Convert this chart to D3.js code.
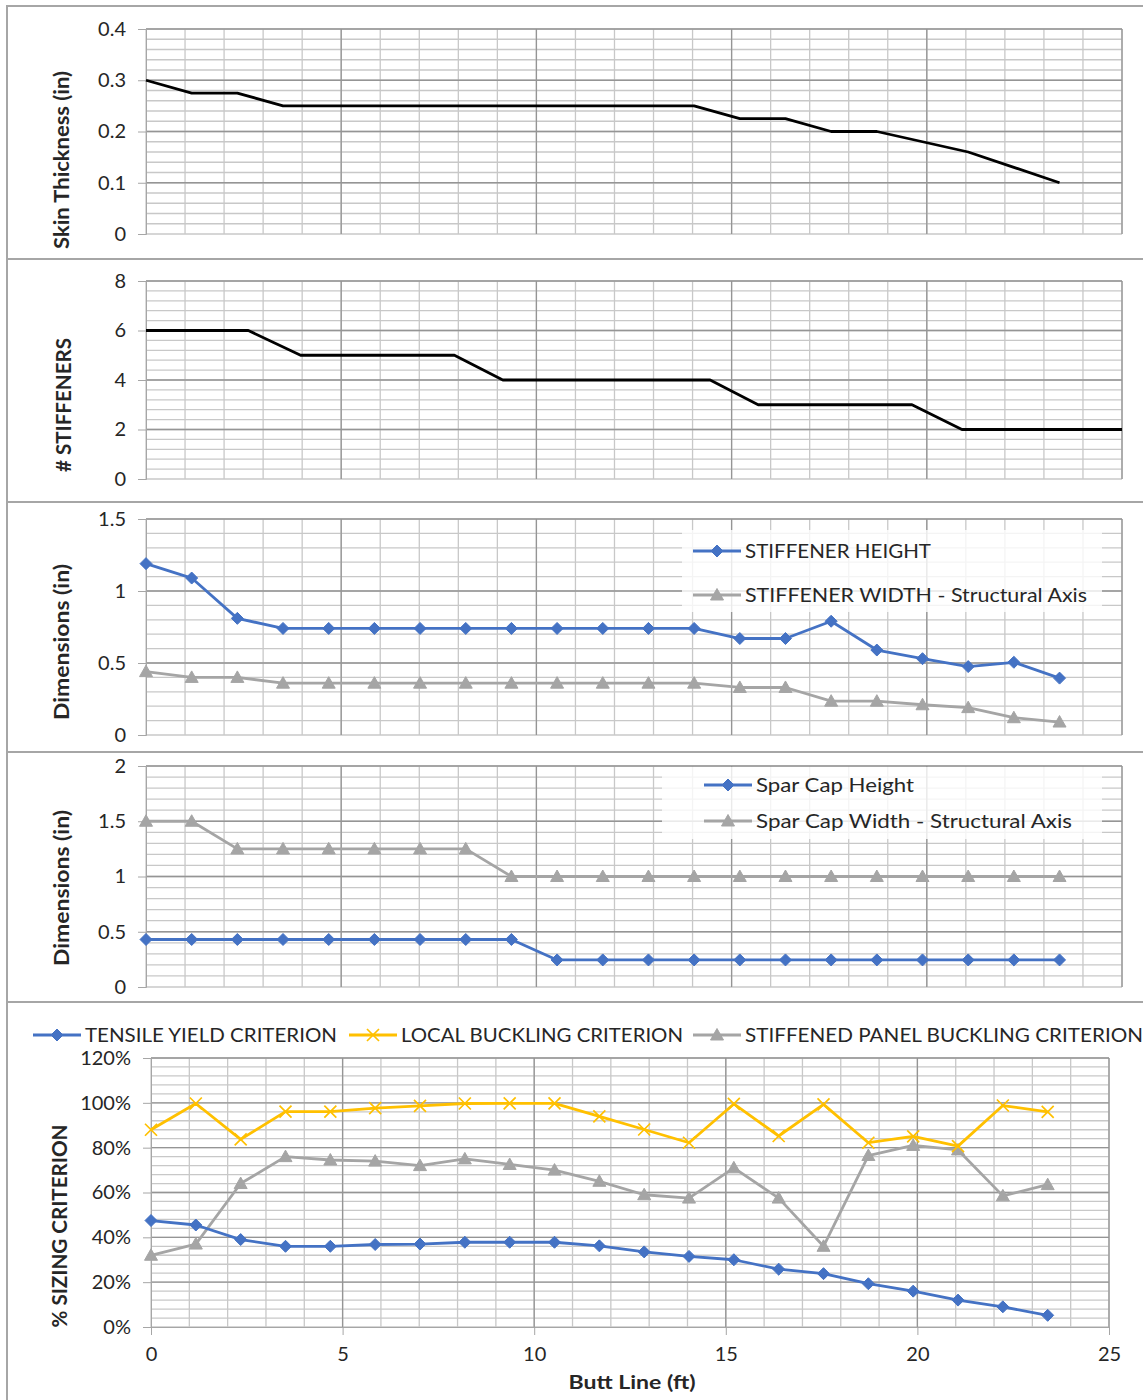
<!DOCTYPE html>
<html>
<head>
<meta charset="utf-8">
<script src="https://cdn.jsdelivr.net/npm/d3@7"></script>
<style>
  body { margin: 0; background: #fff; }
  text { font-family: Lato, "Noto Sans", sans-serif; fill: #262626; }
</style>
</head>
<body>
<script>
// butt line stations (ft), shared by most series
var stations = [0, 1.17, 2.34, 3.51, 4.68, 5.85, 7.02, 8.19, 9.36, 10.53, 11.7,
                12.87, 14.04, 15.21, 16.38, 17.55, 18.72, 19.89, 21.06, 22.23, 23.4];

var skinThickness = [0.30, 0.275, 0.275, 0.25, 0.25, 0.25, 0.25, 0.25, 0.25, 0.25, 0.25,
                     0.25, 0.25, 0.225, 0.225, 0.20, 0.20, 0.18, 0.16, 0.13, 0.10];

var stiffenerX     = [0, 2.62, 3.96, 7.9, 9.14, 14.45, 15.68, 19.62, 20.9, 25];
var stiffenerCount = [6, 6, 5, 5, 4, 4, 3, 3, 2, 2];

var stiffHeight = [1.19, 1.09, 0.81, 0.74, 0.74, 0.74, 0.74, 0.74, 0.74, 0.74, 0.74,
                   0.74, 0.74, 0.67, 0.67, 0.79, 0.59, 0.53, 0.475, 0.505, 0.395];
var stiffWidth  = [0.44, 0.40, 0.40, 0.36, 0.36, 0.36, 0.36, 0.36, 0.36, 0.36, 0.36,
                   0.36, 0.36, 0.33, 0.33, 0.235, 0.235, 0.21, 0.19, 0.12, 0.09];

var sparHeight = [0.43, 0.43, 0.43, 0.43, 0.43, 0.43, 0.43, 0.43, 0.43, 0.245, 0.245,
                  0.245, 0.245, 0.245, 0.245, 0.245, 0.245, 0.245, 0.245, 0.245, 0.245];
var sparWidth  = [1.5, 1.5, 1.25, 1.25, 1.25, 1.25, 1.25, 1.25, 1.0, 1.0, 1.0,
                  1.0, 1.0, 1.0, 1.0, 1.0, 1.0, 1.0, 1.0, 1.0, 1.0];

var tensileYield  = [47.5, 45.5, 39, 36, 36, 36.8, 37, 37.8, 37.8, 37.8, 36.2,
                     33.5, 31.5, 30, 25.8, 23.8, 19.3, 16, 12, 9, 5.2];
var localBuckling = [88, 99.7, 83.7, 96.1, 96.1, 97.6, 98.6, 99.7, 99.8, 99.8, 94,
                     88.1, 82.2, 99.5, 85.2, 99.3, 82.2, 85, 80.7, 98.8, 96];
var panelBuckling = [32, 37, 64, 76, 74.5, 74, 72, 75, 72.5, 70, 65,
                     59, 57.5, 71, 57.5, 36, 76.5, 81, 79, 58.5, 63.5];

var xTicks = [0, 5, 10, 15, 20, 25];

var BLUE = "#4472c4", GRAY = "#a5a5a5", GOLD = "#ffc000";

var svg = d3.select("body").append("svg")
    .attr("width", 1143).attr("height", 1400);

// panel frames
[[6, 259], [259, 502], [502, 752], [752, 1002], [1002, 1410]].forEach(function (b) {
  svg.append("rect")
    .attr("x", 7).attr("y", b[0]).attr("width", 1150).attr("height", b[1] - b[0])
    .attr("fill", "none").attr("stroke", "#a6a6a6").attr("stroke-width", 2);
});

var marks = {
  diamond: "M0,-6L6,0L0,6L-6,0Z",
  triangle: "M0,-6.5L6.5,5L-6.5,5Z",
  cross: "M-6,-6L6,6M-6,6L6,-6"
};

function drawPanel(o) {
  var g = svg.append("g");
  var x = d3.scaleLinear().domain([0, 25]).range([o.left, o.right]);
  var y = d3.scaleLinear().domain([0, o.yMax]).range([o.bottom, o.top]);

  // minor grid
  d3.range(0, 25.001, 1).forEach(function (v) {
    g.append("line").attr("x1", x(v)).attr("x2", x(v)).attr("y1", o.top).attr("y2", o.bottom)
      .attr("stroke", "#c8c8c8").attr("stroke-width", 1.3);
  });
  d3.range(0, o.yMax + 1e-9, o.minor).forEach(function (v) {
    g.append("line").attr("x1", o.left).attr("x2", o.right).attr("y1", y(v)).attr("y2", y(v))
      .attr("stroke", "#c8c8c8").attr("stroke-width", 1.3);
  });
  // major grid
  xTicks.slice(1).forEach(function (v) {
    g.append("line").attr("x1", x(v)).attr("x2", x(v)).attr("y1", o.top).attr("y2", o.bottom)
      .attr("stroke", "#959595").attr("stroke-width", 1.3);
  });
  o.yTicks.slice(1).forEach(function (v) {
    g.append("line").attr("x1", o.left).attr("x2", o.right).attr("y1", y(v)).attr("y2", y(v))
      .attr("stroke", "#959595").attr("stroke-width", 1.3);
  });

  // y axis
  var ya = g.append("g").attr("transform", "translate(" + o.left + ",0)")
    .call(d3.axisLeft(y).tickValues(o.yTicks).tickSize(8).tickPadding(12).tickFormat(o.fmt));
  ya.select(".domain").attr("stroke", "#a6a6a6");
  ya.selectAll(".tick line").attr("stroke", "#a6a6a6");
  ya.selectAll("text").style("font-size", "20px").attr("fill", "#404040");

  if (o.xAxis) {
    var xa = g.append("g").attr("transform", "translate(0," + o.bottom + ")")
      .call(d3.axisBottom(x).tickValues(xTicks).tickSize(8).tickPadding(12).tickFormat(d3.format("d")));
    xa.select(".domain").attr("stroke", "#a6a6a6");
    xa.selectAll(".tick line").attr("stroke", "#a6a6a6");
    xa.selectAll("text").style("font-size", "20px").attr("fill", "#404040");
  }

  // y title
  g.append("text")
    .attr("transform", "translate(" + o.titleX + "," + o.titleY + ") rotate(-90)")
    .attr("text-anchor", "middle").attr("dy", "0.35em")
    .attr("textLength", o.titleLen).attr("lengthAdjust", "spacingAndGlyphs")
    .style("font-size", "20px").style("font-weight", "bold")
    .text(o.title);

  // legend background sits under the series
  if (o.legendBox) {
    g.append("rect").attr("x", o.legendBox[0]).attr("y", o.legendBox[1])
      .attr("width", o.legendBox[2]).attr("height", o.legendBox[3])
      .attr("fill", "#fff").attr("opacity", 0.8);
  }

  o.series.forEach(function (s) {
    var pts = s.xs.map(function (v, i) { return [v, s.ys[i]]; });
    g.append("path").datum(pts)
      .attr("fill", "none").attr("stroke", s.color).attr("stroke-width", 2.8)
      .attr("stroke-linejoin", "round")
      .attr("d", d3.line().x(function (d) { return x(d[0]); }).y(function (d) { return y(d[1]); }));
    if (s.mark) {
      g.selectAll(null).data(pts).enter().append("path")
        .attr("transform", function (d) { return "translate(" + x(d[0]) + "," + y(d[1]) + ")"; })
        .attr("d", marks[s.mark])
        .attr("fill", s.mark == "cross" ? "none" : s.color)
        .attr("stroke", s.color).attr("stroke-width", s.mark == "cross" ? 1.7 : 1);
    }
  });
}

function legendItem(lx, ly, color, mark, label, len) {
  svg.append("line").attr("x1", lx).attr("x2", lx + 48).attr("y1", ly).attr("y2", ly)
    .attr("stroke", color).attr("stroke-width", 2.8);
  svg.append("path").attr("transform", "translate(" + (lx + 24) + "," + ly + ")")
    .attr("d", marks[mark]).attr("fill", mark == "cross" ? "none" : color)
    .attr("stroke", color).attr("stroke-width", mark == "cross" ? 1.7 : 1);
  svg.append("text").attr("x", lx + 52).attr("y", ly).attr("dy", "0.35em")
    .attr("textLength", len).attr("lengthAdjust", "spacingAndGlyphs")
    .style("font-size", "20px").text(label);
}

drawPanel({
  left: 146, right: 1122, top: 29, bottom: 234, yMax: 0.4, minor: 0.02,
  yTicks: [0, 0.1, 0.2, 0.3, 0.4], fmt: function (d) { return d === 0 ? "0" : d3.format(".1f")(d); },
  title: "Skin Thickness (in)", titleX: 62, titleY: 160, titleLen: 178,
  series: [{ xs: stations, ys: skinThickness, color: "#000" }]
});

drawPanel({
  left: 146, right: 1122, top: 281, bottom: 479, yMax: 8, minor: 0.4,
  yTicks: [0, 2, 4, 6, 8], fmt: d3.format("d"),
  title: "# STIFFENERS", titleX: 64, titleY: 405, titleLen: 134,
  series: [{ xs: stiffenerX, ys: stiffenerCount, color: "#000" }]
});

drawPanel({
  left: 146, right: 1122, top: 519, bottom: 735, yMax: 1.5, minor: 0.1,
  yTicks: [0, 0.5, 1, 1.5], fmt: function (d) { return d3.format("")(d); },
  title: "Dimensions (in)", titleX: 62, titleY: 642, titleLen: 156,
  legendBox: [682, 530, 420, 82],
  series: [
    { xs: stations, ys: stiffWidth, color: GRAY, mark: "triangle" },
    { xs: stations, ys: stiffHeight, color: BLUE, mark: "diamond" }
  ]
});
legendItem(693, 551, BLUE, "diamond", "STIFFENER HEIGHT", 186);
legendItem(693, 595, GRAY, "triangle", "STIFFENER WIDTH - Structural Axis", 342);

drawPanel({
  left: 146, right: 1122, top: 766, bottom: 987, yMax: 2, minor: 0.1,
  yTicks: [0, 0.5, 1, 1.5, 2], fmt: function (d) { return d3.format("")(d); },
  title: "Dimensions (in)", titleX: 62, titleY: 888, titleLen: 156,
  legendBox: [662, 767, 440, 72],
  series: [
    { xs: stations, ys: sparWidth, color: GRAY, mark: "triangle" },
    { xs: stations, ys: sparHeight, color: BLUE, mark: "diamond" }
  ]
});
legendItem(704, 785, BLUE, "diamond", "Spar Cap Height", 158);
legendItem(704, 821, GRAY, "triangle", "Spar Cap Width - Structural Axis", 316);

drawPanel({
  left: 151, right: 1109, top: 1058, bottom: 1327, yMax: 120, minor: 4,
  yTicks: [0, 20, 40, 60, 80, 100, 120], fmt: function (d) { return d + "%"; },
  title: "% SIZING CRITERION", titleX: 60, titleY: 1226, titleLen: 203, xAxis: true,
  series: [
    { xs: stations, ys: panelBuckling, color: GRAY, mark: "triangle" },
    { xs: stations, ys: localBuckling, color: GOLD, mark: "cross" },
    { xs: stations, ys: tensileYield, color: BLUE, mark: "diamond" }
  ]
});
legendItem(33, 1035, BLUE, "diamond", "TENSILE YIELD CRITERION", 252);
legendItem(349, 1035, GOLD, "cross", "LOCAL BUCKLING CRITERION", 282);
legendItem(693, 1035, GRAY, "triangle", "STIFFENED PANEL BUCKLING CRITERION", 398);

svg.append("text").attr("x", 632).attr("y", 1382).attr("text-anchor", "middle")
  .attr("dy", "0.35em").attr("textLength", 127).attr("lengthAdjust", "spacingAndGlyphs")
  .style("font-size", "19px").style("font-weight", "bold")
  .text("Butt Line (ft)");
</script>
</body>
</html>
